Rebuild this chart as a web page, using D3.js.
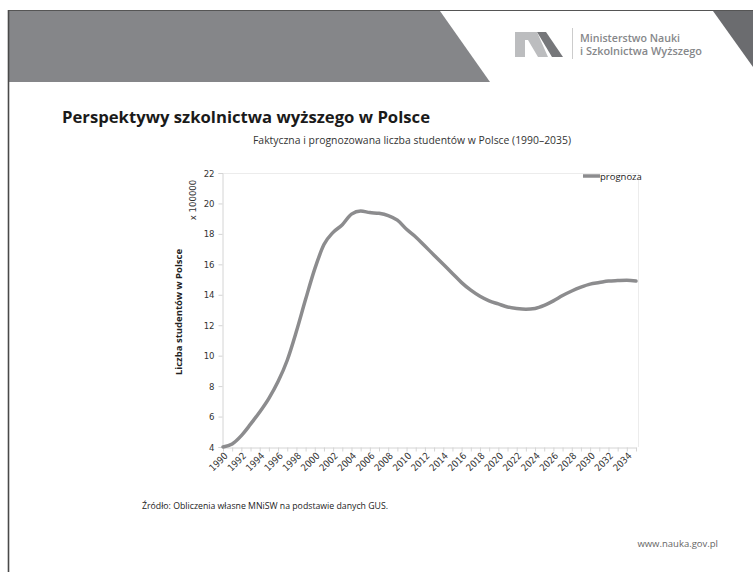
<!DOCTYPE html>
<html>
<head>
<meta charset="utf-8">
<script src="https://cdn.jsdelivr.net/npm/d3@7"></script>
<style>
  body { margin: 0; background: #fff; }
  text { font-family: "Open Sans", "Noto Sans", sans-serif; }
  .narrow { font-family: "Liberation Sans Narrow", "DejaVu Sans Condensed", "Liberation Sans", sans-serif; }
</style>
</head>
<body>
<script>
// lata i liczba studentow (x 100000)
var years = d3.range(1990, 2036);
var students = [4.0, 4.2, 4.75, 5.5, 6.3, 7.2, 8.3, 9.7, 11.6, 13.7,
                15.7, 17.3, 18.1, 18.6, 19.3, 19.5, 19.4, 19.35, 19.2, 18.9,
                18.3, 17.8, 17.2, 16.6, 16.0, 15.4, 14.8, 14.3, 13.9, 13.6,
                13.4, 13.2, 13.1, 13.05, 13.1, 13.3, 13.6, 13.95, 14.25, 14.5,
                14.7, 14.8, 14.9, 14.93, 14.95, 14.9];
var yTicks = [4, 6, 8, 10, 12, 14, 16, 18, 20, 22];
var xLabels = d3.range(1990, 2036, 2);
var seriesName = "prognoza";

var w = 753, h = 572;

var svg = d3.select("body")
      .append("svg")
      .attr("width", w)
      .attr("height", h);

// naglowek strony
svg.append("polygon")
   .attr("points", "8,11 440,11 490,82 8,82")
   .attr("fill", "#858689");
svg.append("polygon")
   .attr("points", "713,11 753,11 753,67")
   .attr("fill", "#6b6c6f");
svg.append("line")
   .attr("x1", 8).attr("x2", 753).attr("y1", 10.5).attr("y2", 10.5)
   .attr("stroke", "#555").attr("stroke-width", 1.2);
svg.append("line")
   .attr("x1", 8.5).attr("x2", 8.5).attr("y1", 10).attr("y2", h)
   .attr("stroke", "#4a4a4a").attr("stroke-width", 1.6);

// logo
svg.append("polygon")
   .attr("points", "515,57 515,32 537,32 548,57 538,57 528,40 525,40 525,57")
   .attr("fill", "#bcbdbf");
svg.append("polygon")
   .attr("points", "537,32 546,32 563,57 552,57")
   .attr("fill", "#76777a");
svg.append("line")
   .attr("x1", 572.5).attr("x2", 572.5).attr("y1", 28).attr("y2", 59)
   .attr("stroke", "#ccc");
svg.append("text")
   .attr("x", 580).attr("y", 42)
   .attr("font-size", 10.5).attr("font-weight", 600).attr("fill", "#86878a")
   .attr("textLength", 100).attr("lengthAdjust", "spacingAndGlyphs")
   .text("Ministerstwo Nauki");
svg.append("text")
   .attr("x", 580).attr("y", 55)
   .attr("font-size", 10.5).attr("font-weight", 600).attr("fill", "#86878a")
   .attr("textLength", 122).attr("lengthAdjust", "spacingAndGlyphs")
   .text("i Szkolnictwa Wyższego");

// tytuly
svg.append("text")
   .attr("x", 62).attr("y", 123)
   .attr("font-size", 16.5).attr("font-weight", 700).attr("fill", "#1a1a1a")
   .attr("textLength", 368).attr("lengthAdjust", "spacingAndGlyphs")
   .text("Perspektywy szkolnictwa wyższego w Polsce");
svg.append("text")
   .attr("x", 253).attr("y", 144)
   .attr("font-size", 10).attr("fill", "#333")
   .attr("textLength", 318).attr("lengthAdjust", "spacingAndGlyphs")
   .text("Faktyczna i prognozowana liczba studentów w Polsce (1990–2035)");

// wykres
var x = d3.scalePoint().domain(years).range([223, 636]);
var y = d3.scaleLinear().domain([4, 22]).range([447, 173]);

// ramka obszaru wykresu
svg.append("path")
   .attr("d", "M222.5,173.5H638.5V447")
   .attr("fill", "none").attr("stroke", "#ececec");

var yAxis = svg.append("g")
   .attr("transform", "translate(222.5,0)")
   .call(d3.axisLeft(y).tickValues(yTicks).tickSize(4).tickPadding(4));
yAxis.select(".domain").attr("stroke", "#d4d4d4");
yAxis.selectAll(".tick line").attr("stroke", "#d4d4d4");
yAxis.selectAll("text")
   .attr("class", "narrow").attr("font-size", 9.5).attr("fill", "#333");

var xAxis = svg.append("g")
   .attr("transform", "translate(0,447.5)")
   .call(d3.axisBottom(x).tickSize(4).tickSizeOuter(0)
      .tickFormat(d => xLabels.includes(d) ? d : ""));
xAxis.select(".domain").attr("stroke", "#d4d4d4");
xAxis.selectAll(".tick line").attr("stroke", "#d4d4d4");
xAxis.selectAll("text")
   .attr("class", "narrow").attr("font-size", 9.5).attr("fill", "#333")
   .attr("text-anchor", "end")
   .attr("dy", 0)
   .attr("transform", "translate(0,4) rotate(-45)");

// opisy osi
svg.append("text")
   .attr("transform", "translate(182,312) rotate(-90)")
   .attr("text-anchor", "middle")
   .attr("font-size", 9.5).attr("font-weight", 700).attr("fill", "#222")
   .text("Liczba studentów w Polsce");
svg.append("text")
   .attr("class", "narrow")
   .attr("transform", "translate(196,200) rotate(-90)")
   .attr("text-anchor", "middle")
   .attr("font-size", 9.5).attr("fill", "#333")
   .text("x 100000");

// linia
var line = d3.line()
   .x((d, i) => x(years[i]))
   .y(d => y(d))
   .curve(d3.curveMonotoneX);

svg.append("path")
   .datum(students)
   .attr("d", line)
   .attr("fill", "none")
   .attr("stroke", "#8c8c8e")
   .attr("stroke-width", 3.5)
   .attr("stroke-linecap", "round");

// legenda
svg.append("line")
   .attr("x1", 583).attr("x2", 600).attr("y1", 176).attr("y2", 176)
   .attr("stroke", "#8c8c8e").attr("stroke-width", 3.5);
svg.append("text")
   .attr("x", 600).attr("y", 180)
   .attr("font-size", 9.5).attr("fill", "#222")
   .text(seriesName);

// stopka
svg.append("text")
   .attr("x", 142).attr("y", 509)
   .attr("font-size", 9.5).attr("fill", "#222")
   .attr("textLength", 246).attr("lengthAdjust", "spacingAndGlyphs")
   .text("Źródło: Obliczenia własne MNiSW na podstawie danych GUS.");
svg.append("text")
   .attr("x", 718).attr("y", 547)
   .attr("text-anchor", "end")
   .attr("font-size", 9.5).attr("fill", "#666")
   .text("www.nauka.gov.pl");
</script>
</body>
</html>
